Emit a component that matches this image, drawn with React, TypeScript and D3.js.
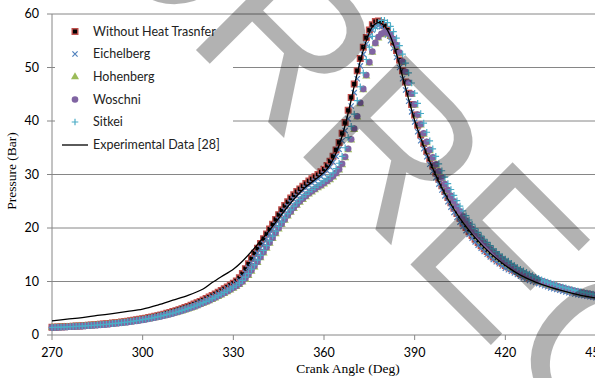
import React from 'react';
import * as d3 from 'd3';

const W = 595;
const H = 378;

// crank angle categories (1 degree step)
const crankAngles = d3.range(270, 451);

const withoutHeatTransfer = [
  1.45,1.47,1.50,1.52,1.55,1.58,1.61,1.64,1.67,1.70,
  1.74,1.78,1.82,1.86,1.90,1.95,2.00,2.05,2.10,2.16,
  2.22,2.28,2.35,2.42,2.49,2.57,2.65,2.74,2.83,2.93,
  3.03,3.14,3.25,3.37,3.49,3.62,3.76,3.90,4.05,4.21,
  4.38,4.55,4.73,4.92,5.12,5.33,5.55,5.78,6.02,6.27,
  6.53,6.80,7.08,7.37,7.67,7.98,8.30,8.63,8.97,9.32,
  9.68,10.1,10.7,11.5,12.4,13.3,14.3,15.3,16.2,17.1,
  18.0,18.9,19.8,20.7,21.6,22.5,23.4,24.2,24.9,25.6,
  26.2,26.8,27.3,27.8,28.3,28.8,29.2,29.6,30.0,30.5,
  31.0,31.7,32.5,33.4,34.6,36.0,37.7,39.7,42.0,44.4,
  46.9,49.4,51.7,53.8,55.6,57.0,58.0,58.6,58.7,58.4,
  57.8,57.0,56.0,54.7,53.2,51.4,49.4,47.3,45.2,43.1,
  41.1,39.2,37.4,35.8,34.3,32.9,31.6,30.3,29.1,27.9,
  26.8,25.7,24.7,23.7,22.7,21.8,20.9,20.1,19.3,18.6,
  17.9,17.3,16.7,16.1,15.6,15.1,14.6,14.2,13.8,13.4,
  13.0,12.7,12.4,12.1,11.8,11.5,11.2,11.0,10.7,10.5,
  10.3,10.1,9.9,9.7,9.5,9.3,9.1,8.95,8.8,8.65,
  8.5,8.35,8.2,8.1,7.95,7.85,7.7,7.6,7.5,7.4,
  7.3,
];

const eichelberg = [
  1.42,1.44,1.46,1.49,1.52,1.54,1.57,1.60,1.63,1.66,
  1.70,1.73,1.77,1.81,1.85,1.90,1.94,1.99,2.04,2.10,
  2.15,2.21,2.28,2.34,2.41,2.49,2.57,2.65,2.74,2.83,
  2.93,3.03,3.14,3.25,3.37,3.50,3.63,3.77,3.91,4.06,
  4.22,4.38,4.56,4.74,4.93,5.13,5.34,5.56,5.79,6.03,
  6.28,6.54,6.81,7.09,7.38,7.68,7.99,8.31,8.64,8.98,
  9.33,9.72,10.2,10.9,11.7,12.6,13.5,14.4,15.3,16.2,
  17.1,18.0,18.9,19.8,20.7,21.6,22.5,23.3,24.1,24.8,
  25.4,26.0,26.5,27.0,27.5,28.0,28.4,28.8,29.2,29.6,
  30.1,30.7,31.4,32.3,33.4,34.7,36.3,38.2,40.4,42.8,
  45.3,47.9,50.3,52.5,54.4,55.9,57.0,57.6,57.8,57.6,
  57.0,56.1,55.0,53.6,51.9,50.0,47.9,45.8,43.7,41.7,
  39.8,38.0,36.3,34.8,33.3,31.9,30.6,29.4,28.2,27.1,
  26.0,24.9,23.9,22.9,22.0,21.1,20.3,19.5,18.8,18.1,
  17.4,16.8,16.2,15.6,15.1,14.6,14.1,13.7,13.3,12.9,
  12.5,12.2,11.9,11.6,11.3,11.0,10.7,10.5,10.2,10.0,
  9.8,9.6,9.4,9.2,9.0,8.8,8.65,8.5,8.35,8.2,
  8.05,7.9,7.8,7.65,7.55,7.45,7.35,7.25,7.15,7.05,
  6.95,
];

const hohenberg = [
  1.36,1.38,1.41,1.43,1.46,1.48,1.51,1.54,1.57,1.60,
  1.63,1.67,1.70,1.74,1.78,1.82,1.86,1.91,1.95,2.00,
  2.06,2.11,2.17,2.23,2.30,2.37,2.44,2.52,2.60,2.69,
  2.78,2.88,2.98,3.08,3.19,3.31,3.43,3.56,3.69,3.83,
  3.98,4.13,4.29,4.46,4.64,4.83,5.02,5.22,5.43,5.65,
  5.88,6.12,6.36,6.62,6.88,7.16,7.45,7.74,8.05,8.37,
  8.70,9.04,9.42,9.85,10.4,11.1,11.9,12.7,13.5,14.4,
  15.3,16.2,17.1,18.0,18.9,19.8,20.6,21.4,22.2,22.9,
  23.6,24.2,24.8,25.3,25.8,26.3,26.7,27.1,27.5,27.8,
  28.2,28.6,29.0,29.5,30.1,30.8,31.8,33.1,34.6,36.4,
  38.4,40.7,43.2,45.8,48.4,50.8,52.8,54.4,55.5,56.1,
  56.4,56.3,55.9,55.1,54.0,52.6,50.9,49.0,47.0,44.9,
  42.9,41.0,39.2,37.5,35.9,34.4,33.0,31.7,30.4,29.2,
  28.0,26.9,25.8,24.8,23.8,22.9,22.0,21.2,20.4,19.6,
  18.9,18.2,17.6,17.0,16.4,15.8,15.3,14.8,14.3,13.9,
  13.5,13.1,12.7,12.4,12.0,11.7,11.4,11.1,10.8,10.6,
  10.3,10.1,9.9,9.7,9.5,9.3,9.1,8.95,8.8,8.65,
  8.5,8.35,8.2,8.05,7.95,7.8,7.7,7.6,7.5,7.4,
  7.3,
];

const woschni = [
  1.38,1.40,1.42,1.45,1.47,1.50,1.53,1.56,1.59,1.62,
  1.65,1.69,1.72,1.76,1.80,1.84,1.89,1.93,1.98,2.03,
  2.09,2.14,2.20,2.27,2.33,2.40,2.48,2.56,2.64,2.73,
  2.82,2.92,3.02,3.13,3.24,3.36,3.48,3.61,3.75,3.89,
  4.04,4.20,4.36,4.53,4.71,4.90,5.10,5.30,5.52,5.74,
  5.97,6.21,6.46,6.72,6.99,7.27,7.56,7.86,8.17,8.49,
  8.82,9.17,9.55,10.0,10.6,11.3,12.1,12.9,13.7,14.6,
  15.5,16.4,17.3,18.2,19.1,20.0,20.8,21.6,22.4,23.1,
  23.8,24.4,25.0,25.5,26.0,26.5,26.9,27.3,27.7,28.0,
  28.4,28.8,29.2,29.7,30.3,31.0,32.0,33.3,34.8,36.6,
  38.6,40.9,43.4,46.0,48.6,51.0,53.0,54.6,55.7,56.3,
  56.6,56.5,56.1,55.3,54.2,52.8,51.1,49.2,47.2,45.1,
  43.1,41.2,39.4,37.7,36.1,34.6,33.2,31.9,30.6,29.4,
  28.2,27.1,26.0,25.0,24.0,23.1,22.2,21.4,20.6,19.8,
  19.1,18.4,17.8,17.2,16.6,16.0,15.5,15.0,14.5,14.1,
  13.7,13.3,12.9,12.6,12.2,11.9,11.6,11.3,11.0,10.8,
  10.5,10.3,10.1,9.9,9.7,9.5,9.3,9.1,8.95,8.8,
  8.65,8.5,8.35,8.2,8.1,7.95,7.85,7.75,7.65,7.55,
  7.45,
];

const sitkei = [
  1.40,1.42,1.44,1.47,1.49,1.52,1.55,1.58,1.61,1.64,
  1.67,1.71,1.74,1.78,1.82,1.87,1.91,1.96,2.01,2.06,
  2.12,2.17,2.23,2.30,2.36,2.43,2.51,2.59,2.67,2.76,
  2.86,2.96,3.06,3.17,3.28,3.40,3.53,3.66,3.80,3.94,
  4.09,4.25,4.42,4.59,4.77,4.96,5.16,5.37,5.59,5.81,
  6.04,6.29,6.54,6.80,7.07,7.36,7.65,7.95,8.27,8.60,
  8.94,9.30,9.70,10.2,10.8,11.5,12.3,13.1,14.0,14.9,
  15.8,16.7,17.6,18.5,19.4,20.3,21.1,21.9,22.7,23.4,
  24.1,24.7,25.3,25.8,26.3,26.8,27.2,27.6,28.0,28.4,
  28.8,29.2,29.7,30.3,31.1,32.1,33.4,35.0,36.9,39.0,
  41.3,43.8,46.4,49.0,51.5,53.8,55.8,57.3,58.3,58.8,
  58.8,58.4,57.7,56.7,55.5,54.1,52.5,50.8,49.0,47.1,
  45.2,43.3,41.4,39.6,37.9,36.3,34.8,33.4,32.0,30.7,
  29.5,28.3,27.2,26.1,25.1,24.1,23.2,22.3,21.5,20.7,
  19.9,19.2,18.5,17.9,17.3,16.7,16.1,15.6,15.1,14.6,
  14.2,13.8,13.4,13.0,12.6,12.3,12.0,11.7,11.4,11.1,
  10.8,10.6,10.3,10.1,9.9,9.7,9.5,9.3,9.1,8.95,
  8.8,8.65,8.5,8.35,8.2,8.1,7.95,7.85,7.75,7.65,
  7.55,
];

const expAngles = [
  270,275,280,285,290,295,300,305,310,315,320,323,326,330,333,336,339,342,345,348,
  351,354,357,360,362,364,366,368,370,372,374,376,378,380,382,384,386,388,390,392,
  394,396,398,400,403,406,410,415,420,425,430,435,440,445,450,
];
const expPressure = [
  2.65,2.95,3.25,3.65,4.0,4.4,4.85,5.6,6.5,7.4,8.6,9.8,10.9,12.3,13.8,15.6,17.6,19.6,21.8,24.0,
  26.0,27.7,29.0,30.4,31.8,34.0,37.2,41.5,46.5,51.2,55.0,57.6,58.4,57.8,55.8,52.5,48.3,44.1,40.1,36.8,
  33.8,31.1,28.6,26.4,23.5,21.0,18.2,15.3,13.0,11.2,9.9,8.9,8.1,7.4,6.9,
];

const xTicks = [270, 300, 330, 360, 390, 420, 450];
const yTicks = [0, 10, 20, 30, 40, 50, 60];

const legendLabels = [
  'Without Heat Trasnfer',
  'Eichelberg',
  'Hohenberg',
  'Woschni',
  'Sitkei',
  'Experimental Data [28]',
];

const RED = '#C0504D';
const BLUE = '#4F81BD';
const GREEN = '#9BBB59';
const PURPLE = '#8064A2';
const TEAL = '#4BACC6';
const GRID = '#868686';

const sansFont = 'Lato, "Open Sans", sans-serif';
const serifFont = '"Liberation Serif", "Times New Roman", serif';

const squarePath = 'M-2.8,-2.8H2.8V2.8H-2.8Z';
const xPath = 'M-2.6,-2.6L2.6,2.6M-2.6,2.6L2.6,-2.6';
const plusPath = 'M-3.3,0H3.3M0,-3.3V3.3';
const triPath = d3.symbol(d3.symbolTriangle, 28)() as string;

function Marker({ kind }: { kind: number }) {
  if (kind === 0) return <path d={squarePath} fill="#000" stroke={RED} strokeWidth={1.4} />;
  if (kind === 1) return <path d={xPath} fill="none" stroke={BLUE} strokeWidth={1.2} />;
  if (kind === 2) return <path d={triPath} fill={GREEN} />;
  if (kind === 3) return <circle r={3.3} fill={PURPLE} />;
  return <path d={plusPath} fill="none" stroke={TEAL} strokeWidth={1.2} />;
}

export default function App() {
  const x = d3.scaleLinear().domain([270, 450]).range([52, 596]);
  const y = d3.scaleLinear().domain([0, 60]).range([335, 14]);

  const seriesList = [withoutHeatTransfer, eichelberg, hohenberg, woschni, sitkei];

  const expLine = d3
    .line<number>()
    .x((_, i) => x(expAngles[i]))
    .y((d) => y(d))
    .curve(d3.curveCatmullRom.alpha(0.5))(expPressure) as string;

  const legendRows = [31.5, 54, 77, 99.5, 122, 145];

  return (
    <svg
      width={W}
      height={H}
      style={{ position: 'absolute', left: 0, top: 0, display: 'block', background: '#fff' }}
    >
      <rect x={0} y={0} width={W} height={H} fill="#fff" />
      {/* gridlines */}
      {yTicks.filter((t) => t > 0).map((t) => (
        <line key={'g' + t} x1={x(270)} x2={W} y1={y(t)} y2={y(t)} stroke={GRID} strokeWidth={1} />
      ))}
      {/* axes */}
      <line x1={x(270)} x2={x(270)} y1={y(60)} y2={y(0)} stroke={GRID} strokeWidth={1} />
      <line x1={x(270)} x2={W} y1={y(0)} y2={y(0)} stroke={GRID} strokeWidth={1} />
      {yTicks.map((t) => (
        <g key={'yt' + t}>
          <line x1={x(270) - 5} x2={x(270)} y1={y(t)} y2={y(t)} stroke={GRID} />
          <text
            x={x(270) - 13}
            y={y(t)}
            dy="0.35em"
            textAnchor="end"
            fontFamily={sansFont}
            fontSize={12.5}
            fill="#000"
          >
            {t}
          </text>
        </g>
      ))}
      {xTicks.map((t) => (
        <g key={'xt' + t}>
          <line x1={x(t)} x2={x(t)} y1={y(0)} y2={y(0) + 5} stroke={GRID} />
          <text
            x={x(t)}
            y={y(0) + 22}
            textAnchor="middle"
            fontFamily={sansFont}
            fontSize={12.5}
            fill="#000"
          >
            {t}
          </text>
        </g>
      ))}
      {/* series markers */}
      {seriesList.map((vals, si) => (
        <g key={'s' + si}>
          {vals.map((v, i) => (
            <g key={i} transform={`translate(${x(crankAngles[i])},${y(v)})`}>
              <Marker kind={si} />
            </g>
          ))}
        </g>
      ))}
      {/* experimental line */}
      <path d={expLine} fill="none" stroke="#000" strokeWidth={1.3} />

      {/* legend */}
      <rect x={55} y={18} width={178} height={146} fill="#fff" />
      {legendLabels.map((lab, i) => (
        <g key={'l' + i}>
          {i < 5 ? (
            <g transform={`translate(75,${legendRows[i]})`}>
              <Marker kind={i} />
            </g>
          ) : (
            <line x1={62} x2={88} y1={legendRows[i]} y2={legendRows[i]} stroke="#000" strokeWidth={1.3} />
          )}
          <text
            x={93}
            y={legendRows[i]}
            dy="0.35em"
            fontFamily={sansFont}
            fontSize={12.5}
            fill="#222"
          >
            {lab}
          </text>
        </g>
      ))}

      {/* axis titles */}
      <text
        x={348}
        y={373}
        textAnchor="middle"
        fontFamily={serifFont}
        fontSize={13.5}
        fill="#000"
      >
        Crank Angle (Deg)
      </text>
      <text
        transform="translate(16,171) rotate(-90)"
        textAnchor="middle"
        fontFamily={serifFont}
        fontSize={13.5}
        fill="#000"
      >
        Pressure (Bar)
      </text>

      {/* watermark */}
      <text
        transform="translate(-39,-185) rotate(45)"
        fontFamily='"Liberation Sans", Arial, sans-serif'
        fontSize={210}
        fill="#000"
        fillOpacity={0.3}
      >
        CORRECTED
      </text>
    </svg>
  );
}
